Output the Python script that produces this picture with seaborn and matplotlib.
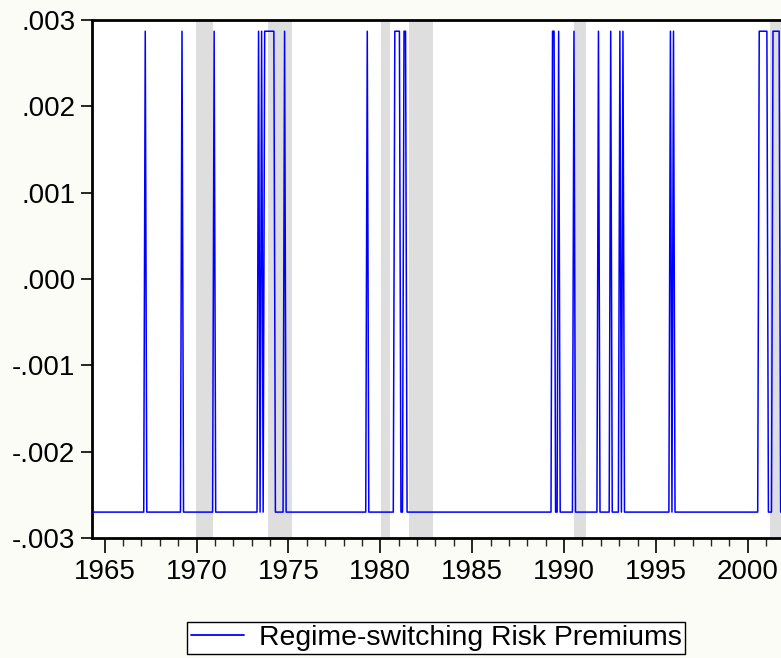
import numpy as np
import pandas as pd
import matplotlib
matplotlib.use("Agg")
import matplotlib.pyplot as plt
import seaborn as sns
from matplotlib.ticker import MultipleLocator, FuncFormatter

# ---------------- data ----------------
sample_start = "1964-04"
sample_end = "2001-12"
high_value = 0.00287     # high-premium regime level
low_value = -0.00270     # low-premium regime level

# months in the high regime: (first month, last month)
high_starts = ["1967-03", "1969-03", "1970-12", "1973-05", "1973-07", "1973-09",
               "1974-10", "1979-04", "1980-10", "1981-04", "1989-05", "1989-09",
               "1990-07", "1991-11", "1992-07", "1993-01", "1993-03", "1995-10",
               "1995-12", "2000-08", "2001-05"]
high_ends = ["1967-03", "1969-03", "1970-12", "1973-05", "1973-07", "1974-03",
             "1974-10", "1979-04", "1981-01", "1981-05", "1989-06", "1989-09",
             "1990-07", "1991-11", "1992-07", "1993-01", "1993-03", "1995-10",
             "1995-12", "2001-01", "2001-09"]

# shaded recession periods
recession_starts = ["1969-12", "1973-11", "1980-01", "1981-07", "1990-07", "2001-03"]
recession_ends = ["1970-11", "1975-03", "1980-07", "1982-11", "1991-03", "2001-11"]

x_ticks = [1965, 1970, 1975, 1980, 1985, 1990, 1995, 2000]
y_ticks = [-0.003, -0.002, -0.001, 0.000, 0.001, 0.002, 0.003]
legend_label = "Regime-switching Risk Premiums"


def month_pos(s):
    p = pd.Period(s, freq="M")
    return p.year + (p.month - 0.5) / 12.0


months = pd.period_range(sample_start, sample_end, freq="M")
values = []
for p in months:
    hi = any(pd.Period(a, "M") <= p <= pd.Period(b, "M")
             for a, b in zip(high_starts, high_ends))
    values.append(high_value if hi else low_value)
df = pd.DataFrame({"t": [p.year + (p.month - 0.5) / 12.0 for p in months],
                   "value": values,
                   "series": legend_label})

# ---------------- drawing ----------------
sns.set_style("ticks")
plt.rcParams["font.family"] = ["Liberation Sans", "DejaVu Sans"]
plt.rcParams["text.color"] = "black"
bg = "#FCFCF6"
fig = plt.figure(figsize=(7.81, 6.58), dpi=100, facecolor=bg)
ax = fig.add_axes([92 / 781, 120 / 658, 1 - 92 / 781, 518 / 658])
ax.set_facecolor("white")

for a, b in zip(recession_starts, recession_ends):
    ax.axvspan(month_pos(a), month_pos(b), color="#DEDEDE", lw=0, zorder=0)

sns.lineplot(data=df, x="t", y="value", hue="series", palette=["#0000FF"],
             lw=1.1, ax=ax, zorder=3)

ax.set_xlim(1964.31, 2001.81)
ax.set_ylim(-0.003, 0.003)
ax.set_xticks(x_ticks)
ax.xaxis.set_minor_locator(MultipleLocator(1))
ax.set_yticks(y_ticks)


def yfmt(v, pos):
    s = f"{v:.3f}"
    if s == "-0.000":
        s = "0.000"
    return s.replace("0.", ".", 1)


ax.yaxis.set_major_formatter(FuncFormatter(yfmt))
ax.set_xlabel("")
ax.set_ylabel("")

for side in ["left", "top", "bottom"]:
    ax.spines[side].set_linewidth(2.0)
    ax.spines[side].set_color("black")
ax.spines["right"].set_visible(False)

ax.tick_params(axis="both", which="major", labelsize=20, colors="black",
               width=1.2, direction="out")
ax.tick_params(axis="x", which="major", length=11, pad=4)
ax.tick_params(axis="x", which="minor", length=6, width=1.0)
ax.tick_params(axis="y", which="major", length=8, pad=4)
ax.tick_params(axis="y", which="minor", length=0)

leg = ax.legend(loc="center", bbox_to_anchor=(436 / 781, 20 / 658),
                bbox_transform=fig.transFigure, frameon=True, fancybox=False,
                fontsize=20.4, handlelength=1.9, handletextpad=0.5,
                borderpad=0.12, borderaxespad=0)
leg.get_frame().set_edgecolor("black")
leg.get_frame().set_linewidth(1.0)
leg.get_frame().set_facecolor("white")
leg.get_frame().set_alpha(1.0)
for text in leg.get_texts():
    text.set_color("black")
for line in leg.get_lines():
    line.set_linewidth(1.3)

fig.savefig("out.png", dpi=100, facecolor=bg)
